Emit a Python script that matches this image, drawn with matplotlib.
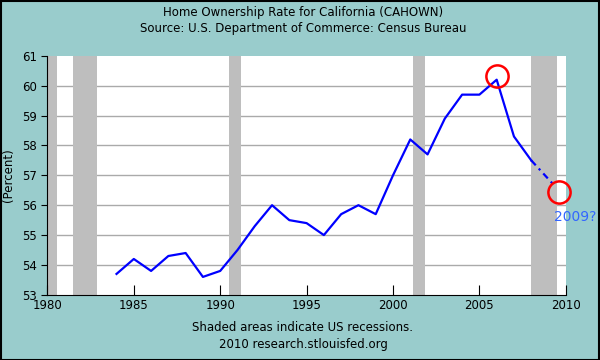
import matplotlib.pyplot as plt

years = [1984, 1985, 1986, 1987, 1988, 1989, 1990, 1991, 1992, 1993, 1994, 1995,
         1996, 1997, 1998, 1999, 2000, 2001, 2002, 2003, 2004, 2005, 2006, 2007, 2008]
rate = [53.7, 54.2, 53.8, 54.3, 54.4, 53.6, 53.8, 54.5, 55.3, 56.0, 55.5, 55.4,
        55.0, 55.7, 56.0, 55.7, 57.0, 58.2, 57.7, 58.9, 59.7, 59.7, 60.2, 58.3, 57.5]
guess_x = [2008, 2009.35]
guess_y = [57.5, 56.65]
circles_x = [2006.0, 2009.62]
circles_y = [60.33, 56.43]
recessions = [(1980.0, 1980.53), (1981.5, 1982.88), (1990.5, 1991.2),
              (2001.17, 2001.85), (2007.98, 2009.48)]

bg = '#99CCCC'
fig = plt.figure(figsize=(6, 3.6), dpi=100, facecolor=bg)
ax = fig.add_axes([0.079, 0.181, 0.864, 0.664])
ax.set_facecolor('white')

# recession bars + horizontal grid
for a, b in recessions:
    ax.axvspan(a, b, color='#BEBEBE', lw=0, zorder=1)
for v in range(54, 61):
    ax.axhline(v, color='#AAAAAA', lw=1, zorder=0.5)

ax.plot(years, rate, color='#0000FF', lw=1.6, zorder=3)
ax.plot(guess_x, guess_y, color='#0000FF', lw=1.6, ls=(0, (3, 2, 1, 2)), zorder=3)
ax.plot(circles_x, circles_y, 'o', ms=16, mfc='none', mec='#FF0000', mew=1.8,
        clip_on=False, zorder=4)
ax.text(2009.3, 55.6, '2009?', color='#3366FF', fontsize=10, va='center', ha='left',
        clip_on=False)

ax.set_xlim(1980, 2010)
ax.set_ylim(53, 61)
ax.set_xticks(range(1980, 2011, 5))
ax.set_yticks(range(53, 62))
ax.tick_params(axis='x', direction='in', length=7, labelsize=8.5, pad=3)
ax.tick_params(axis='y', direction='out', length=4, labelsize=8.5)
for s in ax.spines.values():
    s.set_visible(False)
ax.spines['left'].set_visible(True)
ax.spines['bottom'].set_visible(True)
ax.set_ylabel('(Percent)', fontsize=8.5, labelpad=5)

fig.text(0.505, 0.965, 'Home Ownership Rate for California (CAHOWN)', ha='center',
         va='center', fontsize=8.5)
fig.text(0.505, 0.92, 'Source: U.S. Department of Commerce: Census Bureau', ha='center',
         va='center', fontsize=8.5)
fig.text(0.505, 0.09, 'Shaded areas indicate US recessions.', ha='center',
         va='center', fontsize=8.5)
fig.text(0.505, 0.042, '2010 research.stlouisfed.org', ha='center',
         va='center', fontsize=8.5)

fig.patches.append(plt.Rectangle((0.001, 0.001), 0.997, 0.996, transform=fig.transFigure,
                                 fill=False, ec='black', lw=1.5))
fig.savefig('out.png', dpi=100, facecolor=bg)
